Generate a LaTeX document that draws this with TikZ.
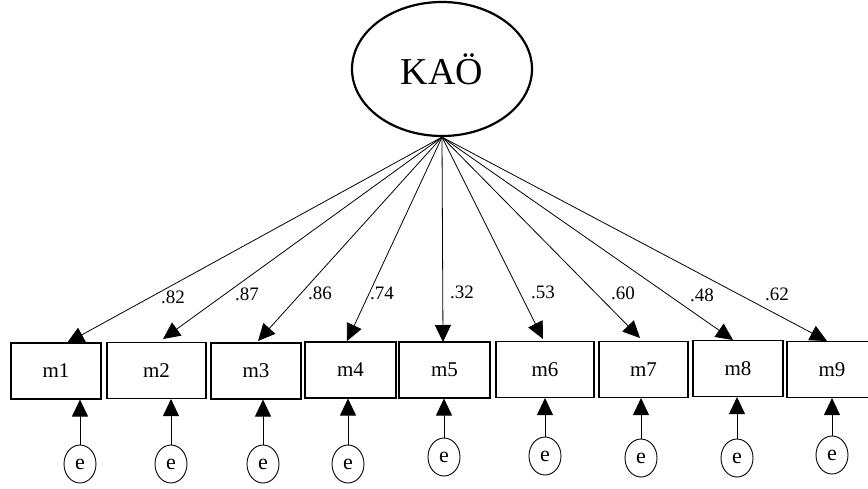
\documentclass[tikz,border=0pt]{standalone}
\usepackage{fontspec}
\setmainfont{Liberation Serif}
\usetikzlibrary{arrows.meta,shapes.geometric}
\begin{document}
\begin{tikzpicture}[x=1pt,y=-1pt,
  obs/.style={draw,line width=1.1pt,rectangle,minimum height=56pt,inner sep=0pt,font=\fontsize{21}{22}\selectfont},
  err/.style={draw,line width=0.9pt,ellipse,minimum width=32pt,minimum height=38pt,inner sep=0pt,font=\fontsize{22}{22}\selectfont},
  lat/.style={draw,line width=2.2pt,ellipse,minimum width=180pt,minimum height=134pt,inner sep=0pt,font=\fontsize{38}{40}\selectfont},
  load/.style={line width=0.8pt,-{Triangle[length=17pt,width=16pt]}},
  erra/.style={line width=0.9pt,-{Triangle[length=17pt,width=16pt]}},
  coef/.style={font=\fontsize{19}{20}\selectfont,inner sep=0pt}]
\useasboundingbox (0,0) rectangle (868,488);
\node[lat] (K) at (442,69) {KAÖ};
\node[obs,minimum width=90pt] (m1) at (56,371) {m1};
\node[obs,minimum width=99pt] (m2) at (156.5,370.5) {m2};
\node[obs,minimum width=90pt] (m3) at (256,371) {m3};
\node[obs,minimum width=91pt] (m4) at (350.5,370) {m4};
\node[obs,minimum width=91pt] (m5) at (444.5,370) {m5};
\node[obs,minimum width=98pt] (m6) at (545,369.5) {m6};
\node[obs,minimum width=89pt] (m7) at (643.5,369.5) {m7};
\node[obs,minimum width=90pt] (m8) at (738,368.5) {m8};
\node[obs,minimum width=90pt] (m9) at (832,369.5) {m9};
\coordinate (t1) at (67,343);
\coordinate (t2) at (163,339);
\coordinate (t3) at (258,341);
\coordinate (t4) at (347,341);
\coordinate (t5) at (443,342);
\coordinate (t6) at (543,339);
\coordinate (t7) at (640,338);
\coordinate (t8) at (733,340);
\coordinate (t9) at (827,341);
\foreach \i in {1,...,9} {\draw[load] (K.south) -- (t\i);}
\node[coef] (l1) at (173,297) {.82};
\node[coef] (l2) at (247,294) {.87};
\node[coef] (l3) at (320,293) {.86};
\node[coef] (l4) at (382,293) {.74};
\node[coef] (l5) at (462,292) {.32};
\node[coef] (l6) at (543,292) {.53};
\node[coef] (l7) at (623,293) {.60};
\node[coef] (l8) at (702,295) {.48};
\node[coef] (l9) at (777,294) {.62};
\node[err] (e1) at (80,464) {e};
\node[err] (e2) at (171,464) {e};
\node[err] (e3) at (263,464) {e};
\node[err] (e4) at (348,464) {e};
\node[err] (e5) at (444,457) {e};
\node[err] (e6) at (545,456) {e};
\node[err] (e7) at (641,458) {e};
\node[err] (e8) at (737,458) {e};
\node[err] (e9) at (832,455) {e};
\foreach \i in {1,...,9} {\draw[erra] (e\i.north) -- (e\i |- m\i.south);}
\end{tikzpicture}
\end{document}
